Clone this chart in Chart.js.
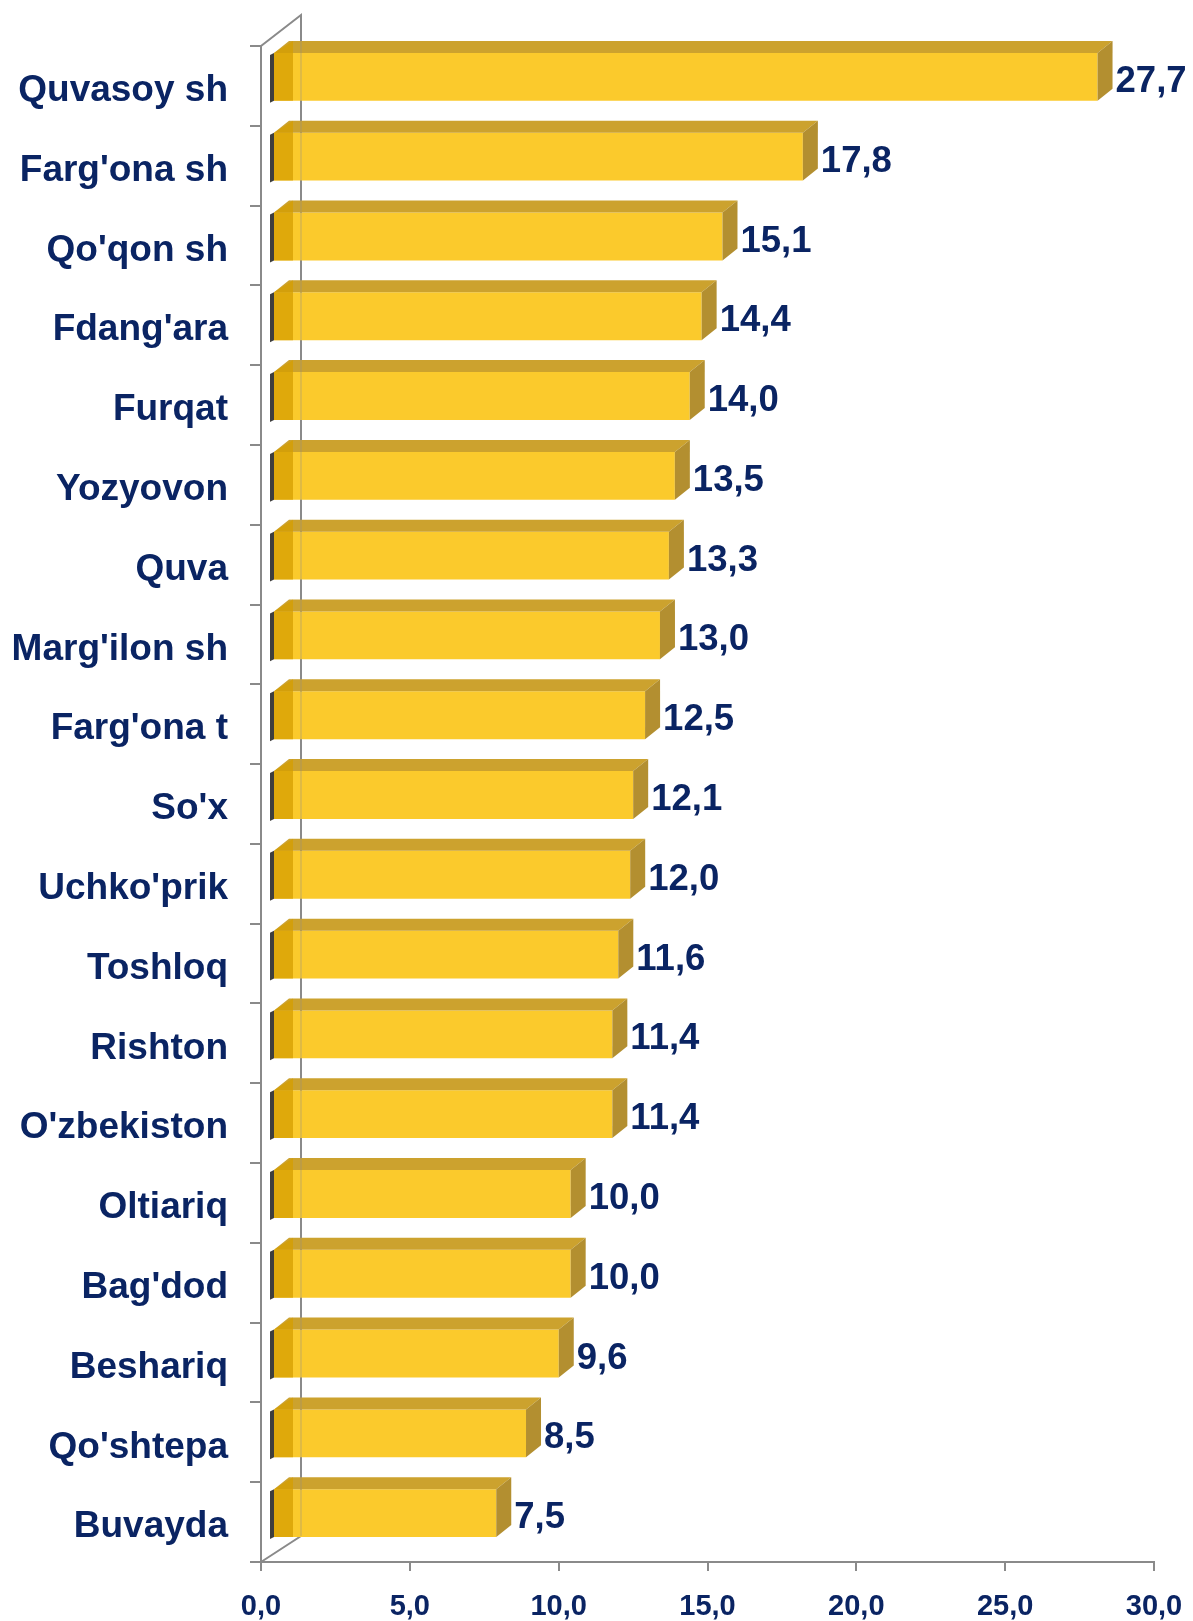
<!DOCTYPE html>
<html>
<head>
<meta charset="utf-8">
<title>Chart</title>
<script src="https://cdn.jsdelivr.net/npm/chart.js@4.4.1/dist/chart.umd.min.js"></script>
<style>
    html, body { margin: 0; padding: 0; background: #ffffff; }
    #wrap { width: 1193px; height: 1621px; position: relative; }
</style>
</head>
<body>
<div id="wrap"><canvas id="barChart"></canvas></div>
<script>
// Data
const districts = ["Quvasoy sh", "Farg'ona sh", "Qo'qon sh", "Fdang'ara", "Furqat", "Yozyovon", "Quva",
    "Marg'ilon sh", "Farg'ona t", "So'x", "Uchko'prik", "Toshloq", "Rishton", "O'zbekiston",
    "Oltiariq", "Bag'dod", "Beshariq", "Qo'shtepa", "Buvayda"];
const values = [27.7, 17.8, 15.1, 14.4, 14.0, 13.5, 13.3, 13.0, 12.5, 12.1, 12.0, 11.6, 11.4, 11.4,
    10.0, 10.0, 9.6, 8.5, 7.5];
const axisTicks = [0, 5, 10, 15, 20, 25, 30];

const navy = '#0a2463';
const gray = '#8a8a8a';
const fontFamily = "'Liberation Sans', Arial, sans-serif";

// 3D look: bars sit a bit inside the box, with a top and a side face
const SHIFT_X = 12, SHIFT_Y = -9;   // bar offset from the front axis
const DEPTH_X = 15, DEPTH_Y = 12;   // bar depth
const WALL_X = 40, WALL_TOP = 31, WALL_BOTTOM = 26;

function fmt(v) {
    return v.toFixed(1).replace('.', ',');
}

function poly(ctx, pts, color) {
    ctx.beginPath();
    ctx.moveTo(pts[0][0], pts[0][1]);
    for (let i = 1; i < pts.length; i++) ctx.lineTo(pts[i][0], pts[i][1]);
    ctx.closePath();
    ctx.fillStyle = color;
    ctx.fill();
}

const box3d = {
    id: 'box3d',
    beforeDatasetsDraw(chart) {
        const ctx = chart.ctx, a = chart.chartArea;
        // back wall lines
        ctx.save();
        ctx.strokeStyle = gray;
        ctx.lineWidth = 2;
        ctx.beginPath();
        ctx.moveTo(a.left, a.top);
        ctx.lineTo(a.left + WALL_X, a.top - WALL_TOP);
        ctx.lineTo(a.left + WALL_X, a.bottom - WALL_BOTTOM);
        ctx.lineTo(a.left, a.bottom);
        ctx.stroke();
        ctx.restore();
        ctx.save();
        ctx.translate(SHIFT_X, SHIFT_Y);
    },
    afterDatasetsDraw(chart) {
        const ctx = chart.ctx;
        const meta = chart.getDatasetMeta(0);
        meta.data.forEach((bar, i) => {
            const p = bar.getProps(['x', 'y', 'base', 'height'], true);
            const top = p.y - p.height / 2, bottom = p.y + p.height / 2;
            // top face
            poly(ctx, [[p.base, top], [p.x, top], [p.x + DEPTH_X, top - DEPTH_Y], [p.base + DEPTH_X, top - DEPTH_Y]], '#cca22e');
            // right face
            poly(ctx, [[p.x, top], [p.x + DEPTH_X, top - DEPTH_Y], [p.x + DEPTH_X, bottom - DEPTH_Y], [p.x, bottom]], '#b38f30');
            // left side seen through the front
            poly(ctx, [[p.base, top], [p.base + DEPTH_X + 4, top - DEPTH_Y], [p.base + DEPTH_X + 4, bottom], [p.base, bottom]], 'rgba(214,158,0,0.75)');
            poly(ctx, [[p.base - 4, top + 2], [p.base, top], [p.base, bottom], [p.base - 4, bottom + 2]], '#3e3e3e');
            // value label
            ctx.fillStyle = navy;
            ctx.font = 'bold 36.5px ' + fontFamily;
            ctx.textAlign = 'left';
            ctx.textBaseline = 'middle';
            ctx.fillText(fmt(values[i]), p.x + DEPTH_X + 3, p.y + 5);
        });
        ctx.restore();
        // wall line faintly visible through the bars
        const a = chart.chartArea;
        ctx.save();
        ctx.strokeStyle = 'rgba(138,138,138,0.25)';
        ctx.lineWidth = 2;
        ctx.beginPath();
        ctx.moveTo(a.left + WALL_X, a.top - WALL_TOP);
        ctx.lineTo(a.left + WALL_X, a.bottom - WALL_BOTTOM);
        ctx.stroke();
        ctx.restore();
    }
};

document.addEventListener('DOMContentLoaded', function() {
    const ctx = document.getElementById('barChart').getContext('2d');
    const chart = new Chart(ctx, {
        type: 'bar',
        data: {
            labels: districts,
            datasets: [{
                data: values,
                backgroundColor: '#fbca2c',
                borderWidth: 0,
                categoryPercentage: 1.0,
                barPercentage: 0.6
            }]
        },
        plugins: [box3d],
        options: {
            indexAxis: 'y',
            responsive: true,
            maintainAspectRatio: false,
            animation: false,
            layout: {
                padding: { left: 0, top: 46, right: 0, bottom: 0 }
            },
            plugins: {
                legend: { display: false },
                title: { display: false },
                tooltip: { enabled: false }
            },
            scales: {
                x: {
                    min: 0,
                    max: 30,
                    afterFit: function(scale) {
                        scale.height = 59;
                        scale.paddingRight = 39;
                    },
                    afterBuildTicks: function(scale) {
                        scale.ticks = axisTicks.map(v => ({ value: v }));
                    },
                    ticks: {
                        color: navy,
                        padding: 19,
                        font: { family: fontFamily, size: 29, weight: 'bold' },
                        callback: function(v) { return fmt(v); }
                    },
                    grid: {
                        drawOnChartArea: false,
                        color: gray,
                        lineWidth: 2,
                        tickLength: 9
                    },
                    border: { color: gray, width: 2 }
                },
                y: {
                    afterFit: function(scale) { scale.width = 261; },
                    ticks: {
                        color: navy,
                        padding: 22,
                        labelOffset: 5,
                        font: { family: fontFamily, size: 37, weight: 'bold' }
                    },
                    grid: {
                        drawOnChartArea: false,
                        color: gray,
                        lineWidth: 2,
                        tickLength: 11
                    },
                    border: { color: gray, width: 2 }
                }
            }
        }
    });
});
</script>
</body>
</html>
